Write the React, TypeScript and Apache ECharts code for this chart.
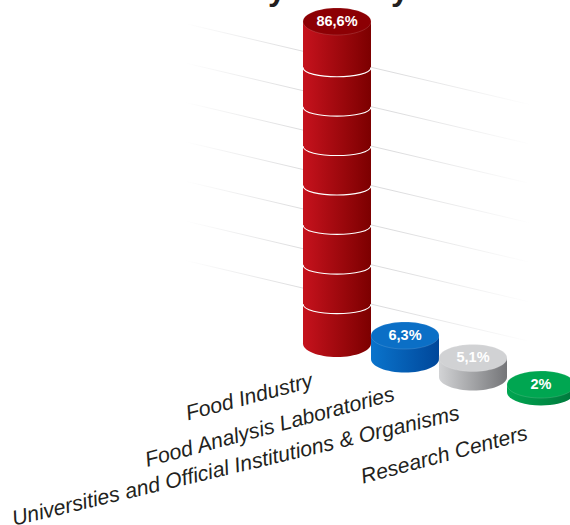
import React, { useEffect, useRef } from "react";
import * as echarts from "echarts";

const categories = [
  "Food Industry",
  "Food Analysis Laboratories",
  "Universities and Official Institutions & Organisms",
  "Research Centers",
];
const shares = [86.6, 6.3, 5.1, 2];
const valueLabels = ["86,6%", "6,3%", "5,1%", "2%"];
const gridLevels = [10.6, 21.2, 31.9, 42.5, 53.1, 63.7, 74.3];

const sideLeft = ["#c6121d", "#0a74cc", "#d2d3d5", "#00a651"];
const sideRight = ["#7c0000", "#00479a", "#747578", "#00783c"];
const capFill = ["#8c0004", "#0b6fc6", "#d1d2d4", "#00a651"];

// Layout of the fake 3D scene
const W = 570;
const H = 525;
const RX = 34;
const RY = 13.5;
const RING_RY = 9.5;
const SLOPE = 0.235;
const baseDrop = [0, 15.5, 33.5, 48.5];
const labelOffset = [
  [-25, 36.5],
  [-11, 34.5],
  [-14, 35.5],
  [-14, 40.5],
];
const labelAngle = [15, 15, 13.4, 15];

function columnItem(_p: any, api: any) {
  const i = api.value(0);
  const v = api.value(1);
  const base = api.coord([i, 0]);
  const top = api.coord([i, v]);
  const drop = baseDrop[i];
  const cx = base[0];
  const by = base[1] + drop;
  const ty = top[1] + drop;
  const side = new echarts.graphic.LinearGradient(0, 0, 1, 0, [
    { offset: 0, color: sideLeft[i] },
    { offset: 1, color: sideRight[i] },
  ]);
  const children: any[] = [
    { type: "ellipse", shape: { cx, cy: by, rx: RX, ry: RY }, style: { fill: side } },
    { type: "rect", shape: { x: cx - RX, y: ty, width: RX * 2, height: by - ty }, style: { fill: side } },
  ];
  if (i === 0) {
    gridLevels.forEach((lv) => {
      const y = api.coord([i, lv])[1] + drop;
      children.push({
        type: "bezierCurve",
        shape: {
          x1: cx - RX,
          y1: y,
          x2: cx + RX,
          y2: y,
          cpx1: cx - RX,
          cpy1: y + (4 / 3) * RING_RY,
          cpx2: cx + RX,
          cpy2: y + (4 / 3) * RING_RY,
        },
        style: { fill: "none", stroke: "#ffffff", lineWidth: 1.1 },
      });
    });
  }
  children.push({
    type: "ellipse",
    shape: { cx, cy: ty, rx: RX, ry: RY },
    style: { fill: capFill[i], stroke: "rgba(255,255,255,0.28)", lineWidth: 0.5 },
  });
  children.push({
    type: "text",
    x: cx,
    y: ty - 1,
    style: {
      text: valueLabels[i],
      x: 0,
      y: 0,
      align: "center",
      verticalAlign: "middle",
      fill: "#ffffff",
      font: 'bold 14.5px "Liberation Sans", Arial, sans-serif',
    },
  });
  children.push({
    type: "text",
    x: cx + labelOffset[i][0],
    y: by + labelOffset[i][1],
    rotation: (labelAngle[i] * Math.PI) / 180,
    style: {
      text: categories[i],
      x: 0,
      y: 0,
      align: "right",
      verticalAlign: "middle",
      fill: "#231f20",
      font: 'italic 21.3px "Liberation Sans", Arial, sans-serif',
    },
  });
  return { type: "group", children };
}

function gridLineItem(_p: any, api: any) {
  const lv = api.value(1);
  const p = api.coord([0, lv]);
  const cx = p[0];
  const x1 = cx - RX - 118;
  const x2 = cx + RX + 160;
  const yAt = (x: number) => p[1] + SLOPE * (x - (cx + RX));
  return {
    type: "line",
    shape: { x1, y1: yAt(x1), x2, y2: yAt(x2) },
    style: {
      lineWidth: 1,
      stroke: new echarts.graphic.LinearGradient(0, 0, 1, 0, [
        { offset: 0, color: "rgba(205,205,207,0)" },
        { offset: 0.34, color: "rgba(205,205,207,0.7)" },
        { offset: 0.6, color: "rgba(205,205,207,0.7)" },
        { offset: 1, color: "rgba(205,205,207,0)" },
      ]),
    },
  };
}

export default function App() {
  const ref = useRef<HTMLDivElement>(null);
  useEffect(() => {
    document.body.style.margin = "0";
    const chart = echarts.init(ref.current!, null, { renderer: "svg" });
    chart.setOption({
      animation: false,
      backgroundColor: "#ffffff",
      grid: { left: 303, top: 21.5, width: 272, height: 322, outerBoundsMode: "none" },
      xAxis: { type: "category", data: categories, show: false },
      yAxis: { type: "value", min: 0, max: 86.6, show: false },
      graphic: [
        { type: "text", x: 268, y: -27, style: { text: "y", fill: "#231f20", font: 'bold 32px "Liberation Sans", Arial, sans-serif' } },
        { type: "text", x: 391, y: -27, style: { text: "y", fill: "#231f20", font: 'bold 32px "Liberation Sans", Arial, sans-serif' } },
      ],
      series: [
        {
          type: "custom",
          z: 1,
          clip: false,
          silent: true,
          renderItem: gridLineItem,
          data: gridLevels.map((lv) => [0, lv]),
        },
        {
          type: "custom",
          z: 2,
          clip: false,
          silent: true,
          renderItem: columnItem,
          data: shares.map((v, i) => [i, v]),
        },
      ],
    });
    return () => chart.dispose();
  }, []);
  return <div ref={ref} style={{ width: W, height: H }} />;
}
